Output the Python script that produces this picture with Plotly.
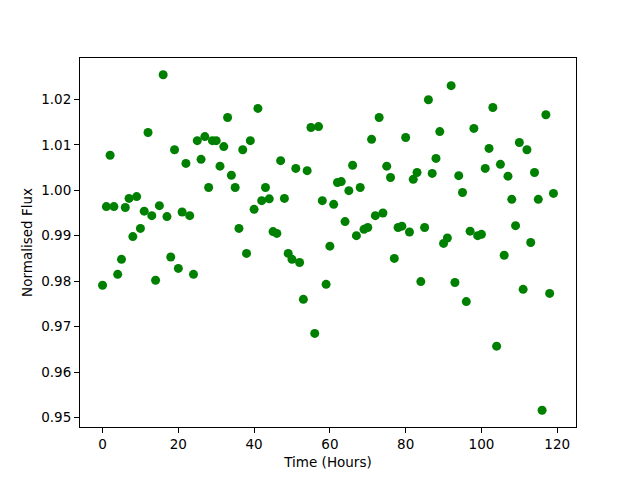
import plotly.graph_objects as go

time_hours = list(range(120))
flux = [
    0.9791, 0.9964, 1.0077, 0.9964, 0.9815, 0.9848, 0.9962, 0.9982, 0.9898, 0.9986,
    0.9916, 0.9954, 1.0127, 0.9944, 0.9802, 0.9966, 1.0254, 0.9942, 0.9853, 1.0089,
    0.9828, 0.9952, 1.0059, 0.9944, 0.9815, 1.0109, 1.0068, 1.0118, 1.0006, 1.0109,
    1.0109, 1.0053, 1.0096, 1.0160, 1.0033, 1.0006, 0.9916, 1.0089, 0.9861, 1.0109,
    0.9958, 1.0180, 0.9977, 1.0006, 0.9981, 0.9909, 0.9905, 1.0065, 0.9982, 0.9861,
    0.9848, 1.0048, 0.9841, 0.9760, 1.0043, 1.0138, 0.9685, 1.0140, 0.9977, 0.9793,
    0.9877, 0.9969, 1.0017, 1.0019, 0.9931, 0.9999, 1.0055, 0.9900, 1.0006, 0.9914,
    0.9918, 1.0112, 0.9944, 1.0160, 0.9950, 1.0053, 1.0028, 0.9850, 0.9918, 0.9921,
    1.0116, 0.9908, 1.0024, 1.0039, 0.9799, 0.9918, 1.0199, 1.0037, 1.0070, 1.0129,
    0.9883, 0.9895, 1.0230, 0.9797, 1.0032, 0.9995, 0.9755, 0.9910, 1.0136, 0.9900,
    0.9903, 1.0048, 1.0092, 1.0182, 0.9657, 1.0057, 0.9857, 1.0031, 0.9980, 0.9922,
    1.0105, 0.9782, 1.0089, 0.9885, 1.0039, 0.9980, 0.9516, 1.0166, 0.9773, 0.9993,
]

x_ticks = [0, 20, 40, 60, 80, 100, 120]
y_ticks = [0.95, 0.96, 0.97, 0.98, 0.99, 1.00, 1.01, 1.02]

fig = go.Figure()
fig.add_trace(go.Scatter(
    x=time_hours, y=flux, mode="markers",
    marker=dict(color="#008000", size=9, line=dict(width=0)),
    showlegend=False,
))

font = dict(family="DejaVu Sans", size=13.5, color="black")
axis_common = dict(
    showline=True, linecolor="black", linewidth=1, mirror=True,
    ticks="outside", ticklen=5, tickwidth=1, tickcolor="black",
    showgrid=False, zeroline=False, tickfont=font, automargin=False,
)
xmin, xmax = min(time_hours), max(time_hours)
ymin, ymax = min(flux), max(flux)
xp = (xmax - xmin) * 0.05
yp = (ymax - ymin) * 0.05
fig.update_xaxes(range=[xmin - xp, xmax + xp], tickvals=x_ticks,
                 title=dict(text="Time (Hours)", font=font, standoff=6), **axis_common)
fig.update_yaxes(range=[ymin - yp, ymax + yp], tickvals=y_ticks, tickformat=".2f",
                 title=dict(text="Normalised Flux", font=font, standoff=5), **axis_common)
fig.update_layout(
    width=640, height=480,
    margin=dict(l=80, r=64, t=58, b=53),
    paper_bgcolor="white", plot_bgcolor="white",
    font=font,
)
fig.write_html("out.html",
               config={"displayModeBar": False},
               post_script="document.body.style.margin='0';document.body.style.padding='0';")
